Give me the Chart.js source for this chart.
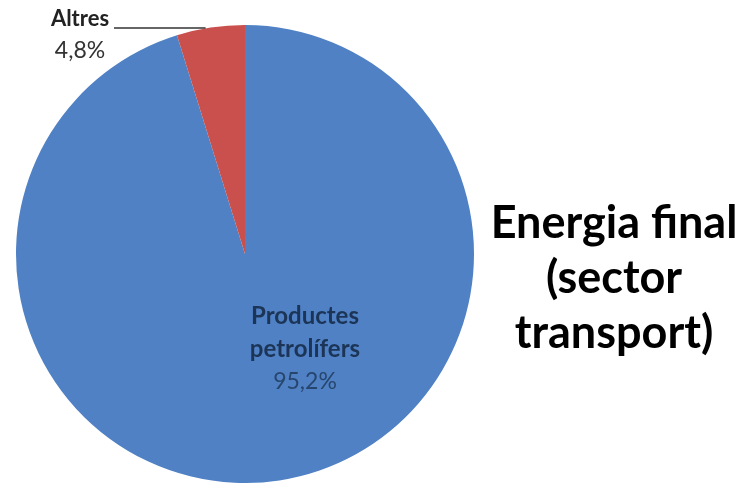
<!DOCTYPE html>
<html>
<head>
<meta charset="utf-8">
<script src="https://cdn.jsdelivr.net/npm/chart.js@4"></script>
<style>
  html, body { margin: 0; padding: 0; background: #fff; }
  #wrap { width: 744px; height: 483px; position: relative; }
</style>
</head>
<body>
<div id="wrap"><canvas id="pie_plot" width="744" height="483"></canvas></div>
<script>
// slice data (percent), clockwise from the top
const labels = ['Productes petrolífers', 'Altres'];
const values = [95.2, 4.8];
const valueText = ['95,2%', '4,8%'];
const colors = ['#4f81c4', '#c9504c'];
const titleLines = ['Energia final', '(sector', 'transport)'];

// draws slice labels and the side title as canvas text
const labelPlugin = {
  id: 'labelPlugin',
  afterDraw(chart) {
    const ctx = chart.ctx;
    const arcs = chart.getDatasetMeta(0).data;
    ctx.save();
    ctx.textAlign = 'center';
    ctx.textBaseline = 'middle';

    // big slice label, inside the pie
    const big = arcs[0];
    const bx = big.x + 60, by = big.y + 62;
    ctx.fillStyle = '#1c3557';
    ctx.font = 'bold 24px Lato';
    ctx.fillText('Productes', bx, by);
    ctx.fillText('petrolífers', bx, by + 33);
    ctx.font = '23px Lato';
    ctx.fillStyle = '#27466e';
    ctx.fillText(valueText[0], bx, by + 66);

    // small slice label, outside with leader line
    const small = arcs[1];
    const r = small.outerRadius;
    const mid = (small.startAngle + small.endAngle) / 2;
    const px = small.x + Math.cos(mid) * r;
    ctx.fillStyle = '#222';
    ctx.font = 'bold 22px Lato';
    ctx.fillText(labels[1], 80, 19);
    ctx.font = '23px Lato';
    ctx.fillStyle = '#333';
    ctx.fillText(valueText[1], 80, 51);
    ctx.strokeStyle = '#333';
    ctx.lineWidth = 1.3;
    ctx.beginPath();
    ctx.moveTo(114, 28);
    ctx.lineTo(px - 5, 28);
    ctx.stroke();

    // side title
    ctx.fillStyle = '#000';
    ctx.font = 'bold 45px Lato';
    titleLines.forEach((t, i) => ctx.fillText(t, 614, 223 + i * 55));
    ctx.restore();
  }
};

new Chart(document.getElementById('pie_plot'), {
  type: 'pie',
  data: {
    labels: labels,
    datasets: [{
      data: values,
      backgroundColor: colors,
      borderWidth: 0
    }]
  },
  options: {
    responsive: false,
    animation: false,
    layout: { padding: { left: 16, right: 270, top: 25, bottom: 0 } },
    plugins: {
      legend: { display: false },
      tooltip: { enabled: false }
    }
  },
  plugins: [labelPlugin]
});
</script>
</body>
</html>
